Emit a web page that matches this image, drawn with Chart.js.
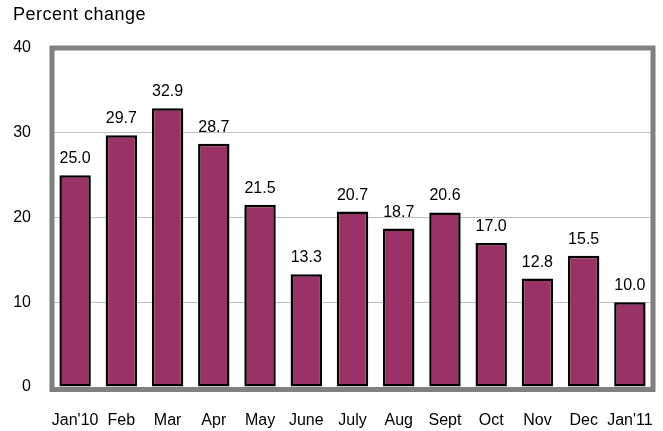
<!DOCTYPE html>
<html>
<head>
<meta charset="utf-8">
<script src="https://cdn.jsdelivr.net/npm/chart.js@4/dist/chart.umd.min.js"></script>
<style>
  html, body { margin: 0; padding: 0; background: #fff; overflow: hidden; }
  canvas { display: block; }
</style>
</head>
<body>
<canvas id="chart" width="663" height="431"></canvas>
<script>
// --- data ---
const months = ["Jan'10", 'Feb', 'Mar', 'Apr', 'May', 'June', 'July', 'Aug', 'Sept', 'Oct', 'Nov', 'Dec', "Jan'11"];
const pctChange = [25.0, 29.7, 32.9, 28.7, 21.5, 13.3, 20.7, 18.7, 20.6, 17.0, 12.8, 15.5, 10.0];
const yTicks = [0, 10, 20, 30, 40];
const yTitle = 'Percent change';

const FONT = 'Arial, "Liberation Sans", sans-serif';

// 値ラベル・枠線・左上タイトルを描くプラグイン
const decor = {
  id: 'decor',
  afterDatasetsDraw(chart) {
    const ctx = chart.ctx;
    const a = chart.chartArea;
    ctx.save();
    // bar value labels
    ctx.fillStyle = '#000';
    ctx.font = '16px ' + FONT;
    ctx.textAlign = 'center';
    ctx.textBaseline = 'alphabetic';
    chart.getDatasetMeta(0).data.forEach((bar, i) => {
      ctx.fillText(pctChange[i].toFixed(1), bar.x, bar.y - 12);
    });
    // gray frame
    ctx.strokeStyle = '#808080';
    ctx.lineWidth = 5;
    ctx.strokeRect(a.left, a.top, a.right - a.left, a.bottom - a.top + 2.5);
    // title
    ctx.textAlign = 'left';
    ctx.textBaseline = 'middle';
    ctx.font = '18px ' + FONT;
    ctx.letterSpacing = '0.5px';
    ctx.fillText(yTitle, 13, 15);
    ctx.restore();
  }
};

new Chart(document.getElementById('chart'), {
  type: 'bar',
  data: {
    labels: months,
    datasets: [{
      data: pctChange,
      backgroundColor: '#993366',
      borderColor: '#000',
      borderWidth: 2.5,
      borderSkipped: false,
      categoryPercentage: 1,
      barPercentage: 0.68
    }]
  },
  options: {
    responsive: false,
    animation: false,
    layout: { padding: { top: 48, right: 10, left: 0, bottom: 0 } },
    plugins: { legend: { display: false }, tooltip: { enabled: false } },
    scales: {
      x: {
        grid: { display: false, drawTicks: false },
        border: { display: false },
        ticks: { color: '#000', font: { size: 16, family: FONT }, padding: 24, maxRotation: 0, autoSkip: false },
        afterFit(s) { s.height = 44; s.paddingLeft = 0; s.paddingRight = 0; }
      },
      y: {
        min: 0,
        max: 40,
        afterBuildTicks(s) { s.ticks = yTicks.map(v => ({ value: v })); },
        grid: { color: '#c0c0c0', lineWidth: 1, drawTicks: false },
        border: { display: false },
        ticks: { color: '#000', font: { size: 16, family: FONT }, padding: 21 },
        afterFit(s) { s.width = 52; s.paddingTop = 0; s.paddingBottom = 0; }
      }
    }
  },
  plugins: [decor]
});
</script>
</body>
</html>
